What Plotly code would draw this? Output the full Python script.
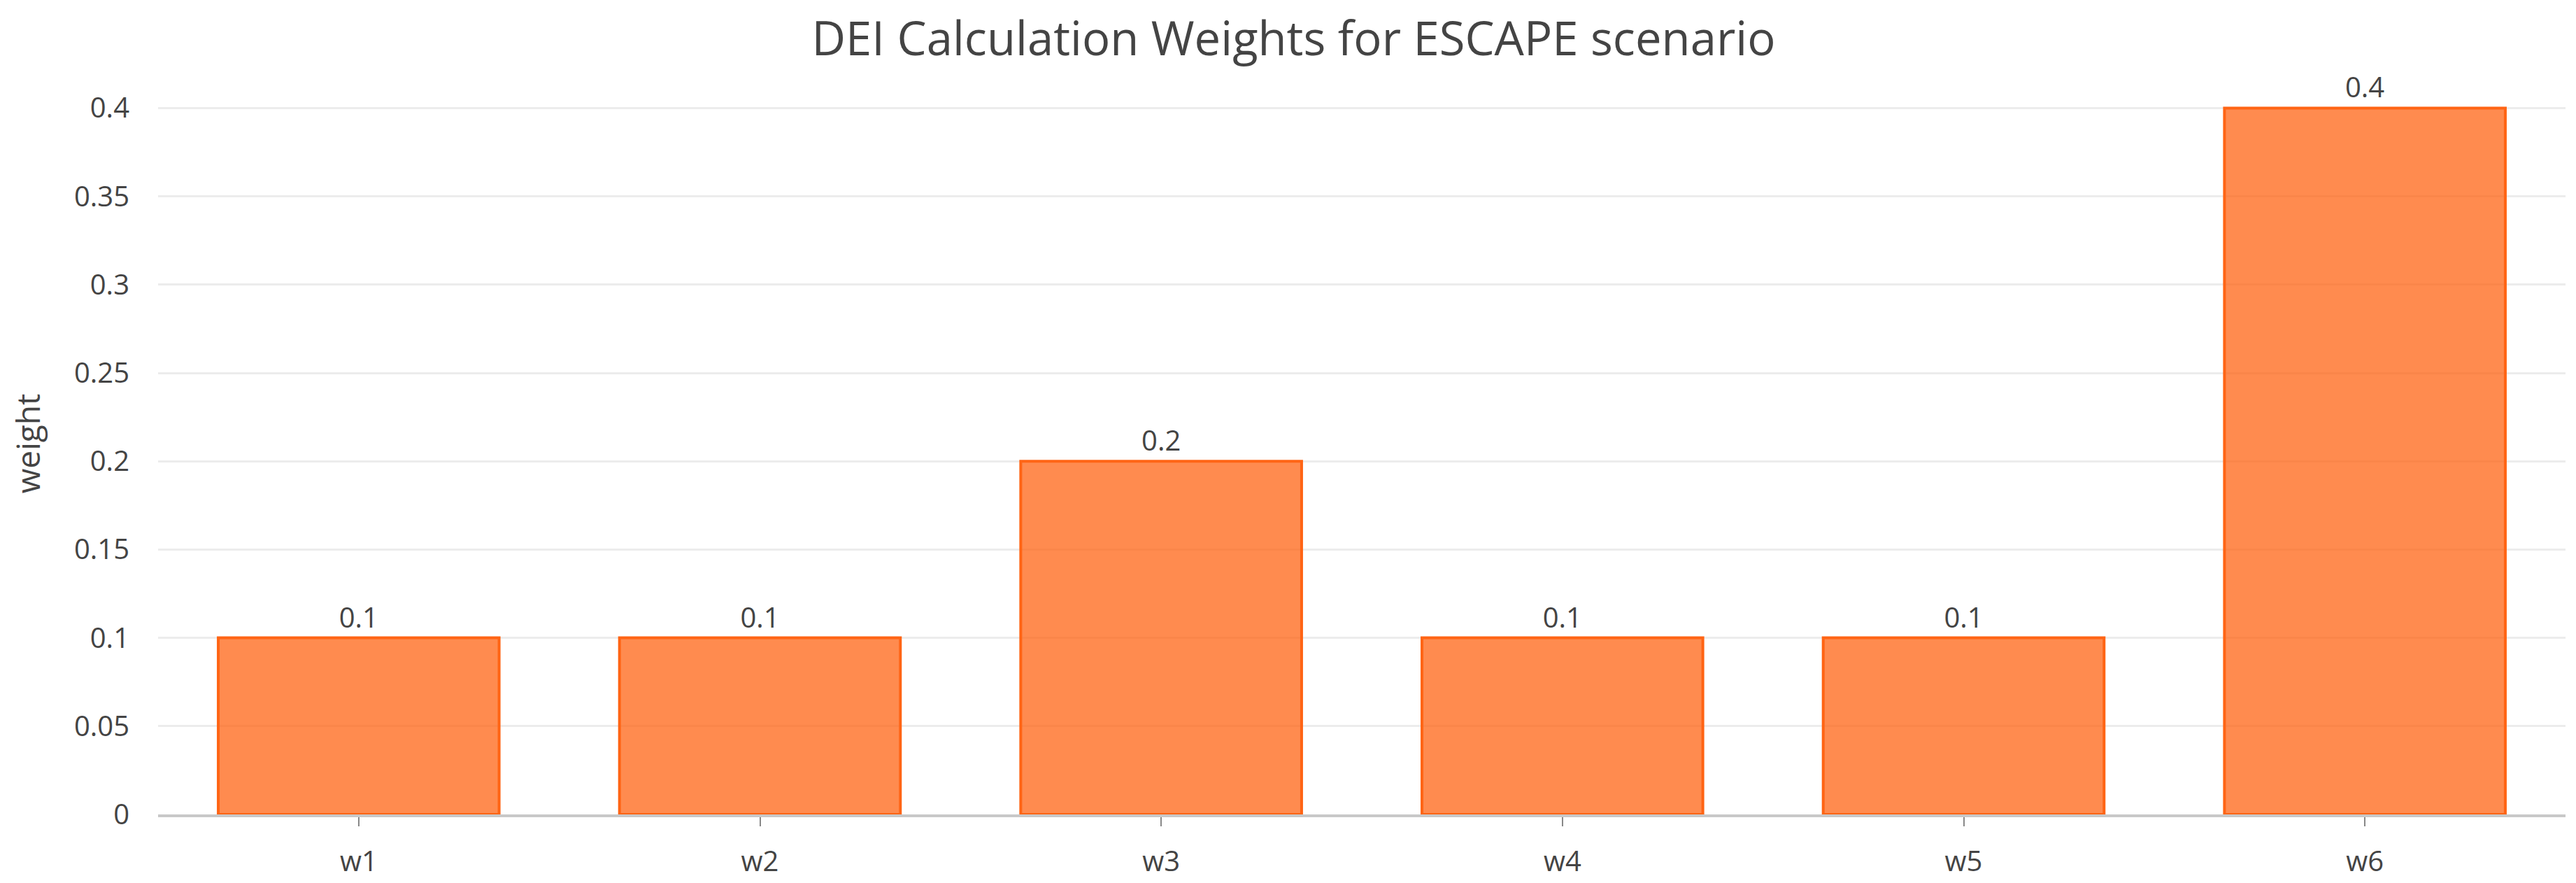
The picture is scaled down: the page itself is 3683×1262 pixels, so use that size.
import plotly.graph_objects as go

categories = ["w1", "w2", "w3", "w4", "w5", "w6"]
weights = [0.1, 0.1, 0.2, 0.1, 0.1, 0.4]
y_ticks = [0, 0.05, 0.1, 0.15, 0.2, 0.25, 0.3, 0.35, 0.4]
y_tick_labels = ["0", "0.05", "0.1", "0.15", "0.2", "0.25", "0.3", "0.35", "0.4"]

FONT = "Open Sans, Noto Sans, sans-serif"
TXT = "#444444"

fig = go.Figure(
    go.Bar(
        x=categories,
        y=weights,
        text=[str(v) for v in weights],
        textposition="outside",
        textfont=dict(family=FONT, size=40, color=TXT),
        cliponaxis=False,
        marker=dict(color="rgba(255,100,20,0.75)", line=dict(color="rgb(255,100,20)", width=4)),
    )
)

fig.update_layout(
    width=3683,
    height=1262,
    margin=dict(l=218, r=23, t=96, b=106),
    paper_bgcolor="white",
    plot_bgcolor="white",
    bargap=0.3,
    showlegend=False,
    font=dict(family=FONT, size=40, color=TXT),
    title=dict(
        text="DEI Calculation Weights for ESCAPE scenario",
        x=0.5,
        xanchor="center",
        y=1 - 48 / 1262,
        yanchor="middle",
        yref="container",
        font=dict(family=FONT, size=67, color=TXT),
    ),
    xaxis=dict(
        showgrid=False,
        showline=True,
        linecolor="#c8c8c8",
        linewidth=4,
        ticks="outside",
        ticklen=13,
        tickwidth=2,
        tickcolor="#888888",
        ticklabelstandoff=16,
        tickfont=dict(family=FONT, size=40, color=TXT),
    ),
    yaxis=dict(
        range=[0, 0.42],
        tickvals=y_ticks,
        ticktext=y_tick_labels,
        showgrid=True,
        gridcolor="#ececec",
        gridwidth=3,
        zeroline=False,
        showline=False,
        ticks="",
        ticklabelstandoff=40,
        tickfont=dict(family=FONT, size=40, color=TXT),
        title=dict(text="weight", font=dict(family=FONT, size=46, color=TXT), standoff=46),
        automargin=False,
    ),
)

fig.write_html("out.html")
